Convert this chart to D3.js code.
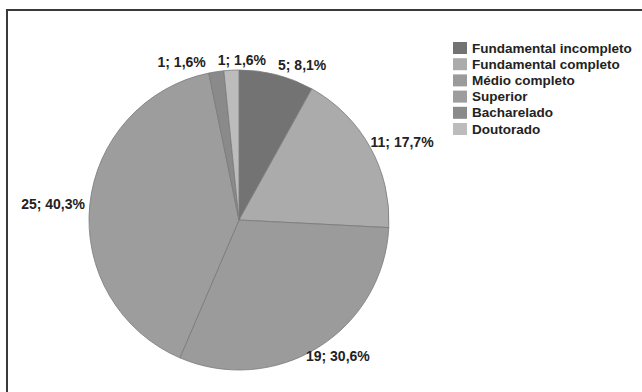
<!DOCTYPE html>
<html>
<head>
<meta charset="utf-8">
<script src="https://d3js.org/d3.v7.min.js"></script>
<style>
  body { margin: 0; background: #fff; }
  svg { font-family: "Liberation Sans", Arial, sans-serif; }
  .lbl { font-size: 14px; font-weight: bold; fill: #222; }
  .leg { font-size: 13.5px; font-weight: bold; fill: #222; }
</style>
</head>
<body>
<div id="chart"></div>
<script>
// data
var categories = ["Fundamental incompleto", "Fundamental completo", "Médio completo", "Superior", "Bacharelado", "Doutorado"];
var counts = [5, 11, 19, 25, 1, 1];
var percents = ["8,1%", "17,7%", "30,6%", "40,3%", "1,6%", "1,6%"];
var colors = ["#737373", "#ababab", "#9b9b9b", "#9d9d9d", "#8a8a8a", "#bcbcbc"];

var width = 642, height = 392;
var cx = 239, cy = 220, radius = 150;

var svg = d3.select("#chart").append("svg")
    .attr("width", width)
    .attr("height", height);

// frame (top + left only visible)
svg.append("line").attr("x1", 6).attr("x2", width).attr("y1", 10).attr("y2", 10)
    .attr("stroke", "#3a3a3a").attr("stroke-width", 2);
svg.append("line").attr("x1", 7).attr("x2", 7).attr("y1", 9).attr("y2", height)
    .attr("stroke", "#3a3a3a").attr("stroke-width", 2);

var data = categories.map(function(c, i) {
    return { name: c, value: counts[i], pct: percents[i], color: colors[i] };
});

var pie = d3.pie().sort(null).value(d => d.value);
var arc = d3.arc().innerRadius(0).outerRadius(radius);
var arcs = pie(data);

var g = svg.append("g").attr("transform", `translate(${cx},${cy})`);

g.selectAll("path")
    .data(arcs).enter()
    .append("path")
    .attr("d", arc)
    .attr("fill", d => d.data.color)
    .attr("stroke", "#7a7a7a")
    .attr("stroke-width", 0.8);

/* labels, placed outside like a spreadsheet's "best fit" */
var labelR = radius + 5;
var labels = arcs.map(function(d) {
    var a = (d.startAngle + d.endAngle) / 2;
    var txt = d.data.value + "; " + d.data.pct;
    return { a: a, text: txt };
});

var tmp = svg.append("text").attr("class", "lbl");
labels.forEach(function(l) {
    tmp.text(l.text);
    l.w = tmp.node().getComputedTextLength();
    l.h = 10;
    var px = labelR * Math.sin(l.a), py = -labelR * Math.cos(l.a);
    l.x = px + l.w / 2 * Math.sin(l.a);
    l.y = py - l.h / 2 * Math.cos(l.a);
});
tmp.remove();

// push apart overlapping labels sideways
for (var it = 0; it < 30; it++) {
    for (var i = 0; i < labels.length; i++) {
        for (var j = i + 1; j < labels.length; j++) {
            var A = labels[i], B = labels[j];
            if (Math.abs(A.y - B.y) < A.h + 2) {
                var need = (A.w + B.w) / 2 + 12;
                var dx = B.x - A.x;
                if (Math.abs(dx) < need) {
                    var s = dx >= 0 ? 1 : -1;
                    var shift = (need - Math.abs(dx)) / 2;
                    A.x -= s * shift;
                    B.x += s * shift;
                }
            }
        }
    }
}

g.selectAll("text.lbl")
    .data(labels).enter()
    .append("text")
    .attr("class", "lbl")
    .attr("x", d => d.x)
    .attr("y", d => d.y)
    .attr("text-anchor", "middle")
    .attr("dominant-baseline", "central")
    .text(d => d.text);

/* legend */
var legend = svg.append("g").attr("transform", "translate(453,42)");
var rows = legend.selectAll("g")
    .data(data).enter()
    .append("g")
    .attr("transform", (d, i) => `translate(0, ${i * 16.2})`);
rows.append("rect")
    .attr("width", 14).attr("height", 12)
    .attr("fill", d => d.color);
rows.append("text")
    .attr("class", "leg")
    .attr("x", 19)
    .attr("y", 10.5)
    .text(d => d.name);
</script>
</body>
</html>
